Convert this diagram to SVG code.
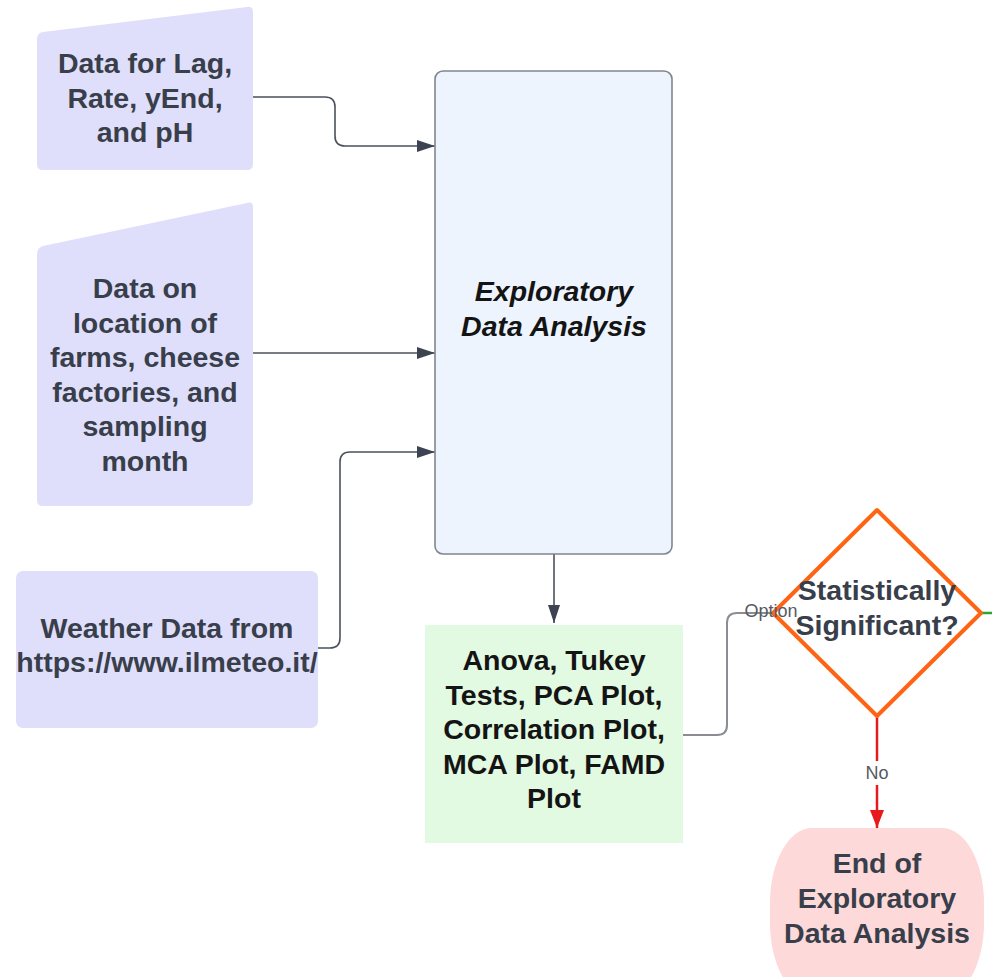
<svg xmlns="http://www.w3.org/2000/svg" width="992" height="977" viewBox="0 0 992 977">
<defs>
<style>
.t{font-family:"Liberation Sans",Arial,sans-serif;font-weight:bold;font-size:28.5px;text-anchor:middle;}
.slate{fill:#383e4a;}
.blk{fill:#141414;}
.lbl{font-family:"Liberation Sans",Arial,sans-serif;font-size:18px;fill:#555a62;text-anchor:middle;}
.conn{fill:none;stroke:#4b515c;stroke-width:1.6;}
.input{fill:#dfdffb;}
</style>
<marker id="ah" viewBox="0 0 18 12" refX="18" refY="6" markerWidth="18" markerHeight="12" markerUnits="userSpaceOnUse" orient="auto">
<path d="M0,0 L18,6 L0,12 Z" fill="#3d4350"/>
</marker>
<marker id="ahr" viewBox="0 0 18 14" refX="18" refY="7" markerWidth="18" markerHeight="14" markerUnits="userSpaceOnUse" orient="auto">
<path d="M0,0 L18,7 L0,14 Z" fill="#e8191c"/>
</marker>
</defs>
<rect width="992" height="977" fill="#ffffff"/>

<g id="connectors">
<path class="conn" d="M253,97 L325,97 Q335,97 335,107 L335,136 Q335,146 345,146 L435,146" marker-end="url(#ah)"/>
<path class="conn" d="M253,353 L435,353" marker-end="url(#ah)"/>
<path class="conn" d="M318,648 L330,648 Q340,648 340,638 L340,462 Q340,452 350,452 L435,452" marker-end="url(#ah)"/>
<path class="conn" d="M554,554 L554,623" marker-end="url(#ah)"/>
<path d="M683,735 L717,735 Q727,735 727,725 L727,623 Q727,613 737,613 L773,613" fill="none" stroke="#8a8d93" stroke-width="2"/>
<path d="M877,717 L877,761" fill="none" stroke="#e8191c" stroke-width="2.5"/>
<path d="M877,785 L877,828" fill="none" stroke="#e8191c" stroke-width="2.5" marker-end="url(#ahr)"/>
<path d="M981,613 L992,613" fill="none" stroke="#2ea62e" stroke-width="2.5"/>
</g>

<g id="node-lag-rate">
<path class="input" d="M37,39 Q37,33 43,32 L247,7 Q253,6 253,12 L253,164 Q253,170 247,170 L43,170 Q37,170 37,164 Z"/>
<text class="t slate" x="145" y="73">Data for Lag,</text>
<text class="t slate" x="145" y="108">Rate, yEnd,</text>
<text class="t slate" x="145" y="142">and pH</text>
</g>

<g id="node-location">
<path class="input" d="M37,254 Q37,248 43,246 L247,203 Q253,201 253,207 L253,500 Q253,506 247,506 L43,506 Q37,506 37,500 Z"/>
<text class="t slate" x="145" y="298">Data on</text>
<text class="t slate" x="145" y="333">location of</text>
<text class="t slate" x="145" y="367">farms, cheese</text>
<text class="t slate" x="145" y="402">factories, and</text>
<text class="t slate" x="145" y="436">sampling</text>
<text class="t slate" x="145" y="471">month</text>
</g>

<g id="node-weather">
<rect class="input" x="16" y="571" width="302" height="157" rx="7"/>
<text class="t slate" x="167" y="638">Weather Data from</text>
<text class="t slate" x="167" y="672">https://www.ilmeteo.it/</text>
</g>

<g id="node-eda">
<rect x="435" y="71" width="237" height="483" rx="8" fill="#edf4fe" stroke="#80858e" stroke-width="1.6"/>
<text class="t blk" x="554" y="301" font-style="italic">Exploratory</text>
<text class="t blk" x="554" y="336" font-style="italic">Data Analysis</text>
</g>

<g id="node-tests">
<rect x="425" y="625" width="258" height="218" fill="#e2f9e2"/>
<text class="t blk" x="554" y="670">Anova, Tukey</text>
<text class="t blk" x="554" y="705">Tests, PCA Plot,</text>
<text class="t blk" x="554" y="739">Correlation Plot,</text>
<text class="t blk" x="554" y="774">MCA Plot, FAMD</text>
<text class="t blk" x="554" y="808">Plot</text>
</g>

<g id="node-decision">
<polygon points="877,510 981,613 877,716 773,613" fill="#ffffff" stroke="#ff6414" stroke-width="4" stroke-linejoin="round"/>
<text class="t slate" x="877" y="600">Statistically</text>
<text class="t slate" x="877" y="635">Significant?</text>
</g>

<g id="node-end">
<rect x="770" y="828" width="214" height="170" rx="42" ry="75" fill="#fdd9d9"/>
<text class="t slate" x="877" y="873">End of</text>
<text class="t slate" x="877" y="908">Exploratory</text>
<text class="t slate" x="877" y="943">Data Analysis</text>
</g>

<g id="labels">
<text class="lbl" x="771" y="617">Option</text>
<text class="lbl" x="877" y="779">No</text>
</g>
</svg>
